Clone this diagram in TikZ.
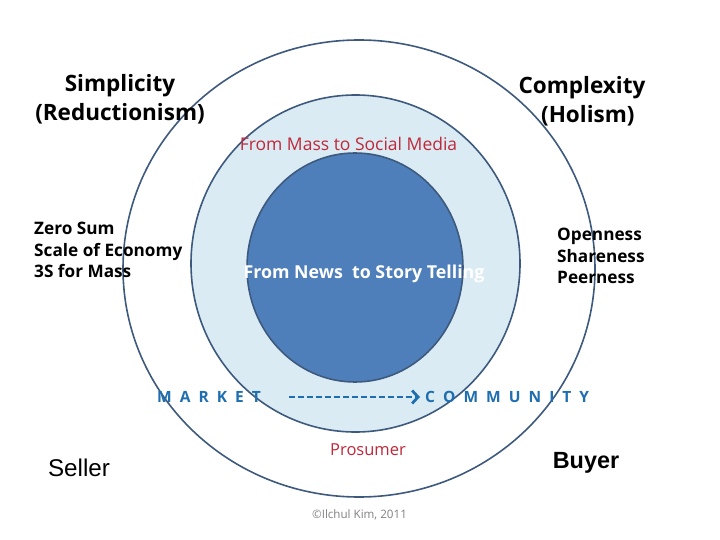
\documentclass[tikz,border=0pt]{standalone}
\usepackage{fontspec}
\setmainfont{Open Sans}
\newfontfamily\arialf{Liberation Sans}
\usetikzlibrary{shapes.geometric,arrows.meta}
\definecolor{ringline}{HTML}{3D5A7E}
\definecolor{midfill}{HTML}{DAEBF3}
\definecolor{corefill}{HTML}{4F7FBA}
\definecolor{corered}{HTML}{C0283A}
\definecolor{mblue}{HTML}{1F6EB0}
\definecolor{cgray}{HTML}{808080}
\tikzset{
  ring/.style={ellipse, draw=ringline, line width=1.6pt, inner sep=0pt},
  headtxt/.style={font=\fontsize{22.5}{29}\selectfont\bfseries, align=center, inner sep=0pt},
  listtxt/.style={font=\fontsize{17.2}{21.5}\selectfont\bfseries, align=left, inner sep=0pt},
  redtxt/.style={font=\fontsize{17.5}{20}\selectfont, text=corered, inner sep=0pt},
  bluetxt/.style={font=\fontsize{15.5}{18}\selectfont\bfseries, text=mblue, inner sep=0pt},
  dasharrow/.style={draw=mblue, line width=1.8pt, dash pattern=on 6pt off 3pt, -{Straight Barb[length=6pt,width=13pt,line width=2.8pt]}},
}
\begin{document}
\begin{tikzpicture}[x=1pt,y=-1pt]
\useasboundingbox (0,0) rectangle (720,540);
\node[ring, fill=white, minimum width=472pt, minimum height=457pt] (outer) at (359,268.5) {};
\node[ring, fill=midfill, minimum width=329pt, minimum height=337pt] (mid) at (355.5,263.5) {};
\node[ring, fill=corefill, minimum width=216pt, minimum height=229pt] (core) at (355,267.5) {};

\node[headtxt] (simp) at (120,99) {Simplicity\\(Reductionism)};
\node[headtxt] (comp) at (582,101) {Complexity\\\ \ (Holism)};
\node[redtxt] (mass) at (348.5,144) {From Mass to Social Media};
\node[listtxt, anchor=west] (zero) at (34,250) {Zero Sum\\Scale of Economy\\3S for Mass};
\node[listtxt, anchor=west] (open) at (557,256) {Openness\\Shareness\\Peerness};
\node[font=\fontsize{17.8}{20}\selectfont\bfseries, text=white, inner sep=0pt] (news) at (364,274) {From News\ \ to Story Telling};
\node[bluetxt, anchor=west] (market) at (157,397) {M\ \ A\ \ R\ \ K\ \ E\ \ T};
\coordinate (dstart) at (289,397);
\node[bluetxt, anchor=west] (comm) at (425,397) {C\ \ O\ \ M\ \ M\ \ U\ \ N\ \ I\ \ T\ \ Y};
\draw[dasharrow] (dstart) -- ([xshift=-5pt]comm.west);
\node[redtxt, font=\fontsize{16.5}{18}\selectfont] (pros) at (368,450) {Prosumer};
\node[font=\arialf\fontsize{24.2}{26}\selectfont, inner sep=0pt] (seller) at (79,468) {Seller};
\node[font=\arialf\fontsize{23.4}{26}\selectfont\bfseries, inner sep=0pt] (buyer) at (586,463) {Buyer};
\node[font=\fontsize{11.6}{13}\selectfont, text=cgray, inner sep=0pt] (copy) at (359.5,515) {©Ilchul Kim, 2011};
\end{tikzpicture}
\end{document}
